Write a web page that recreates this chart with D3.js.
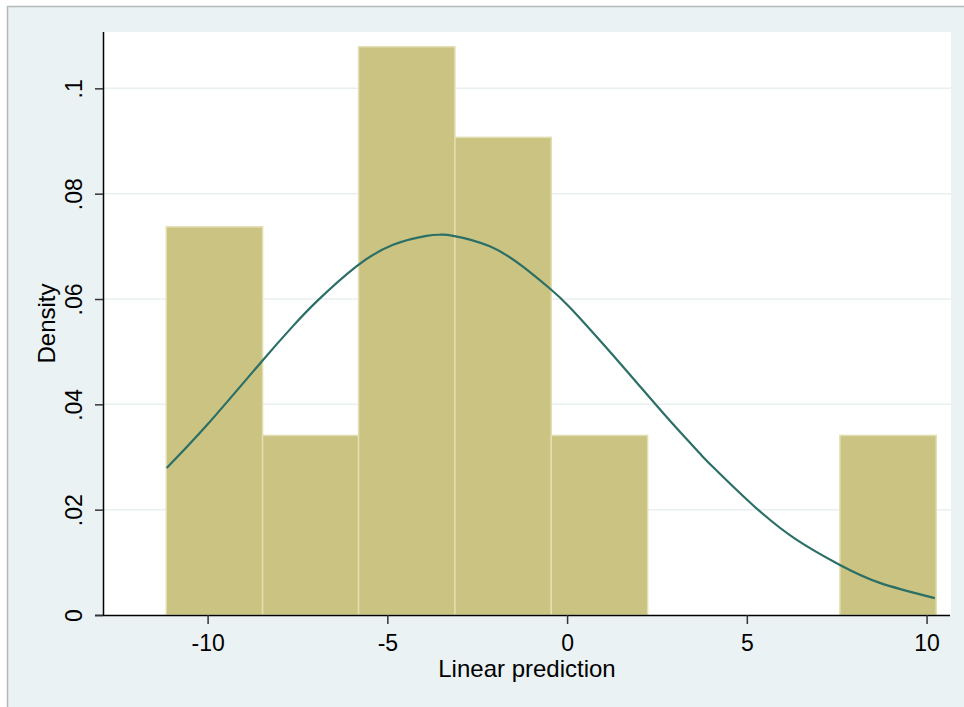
<!DOCTYPE html>
<html>
<head>
<meta charset="utf-8">
<script src="https://cdn.jsdelivr.net/npm/d3@7"></script>
<style>
  html, body { margin: 0; padding: 0; background: #fff; }
  svg { display: block; }
  text { font-family: "Liberation Sans", Arial, sans-serif; fill: #000; }
</style>
</head>
<body>
<div id="chart"></div>
<script>
// histogram bins (edges of the bins, in units of the linear prediction)
const binEdges = [-11.15, -8.47, -5.80, -3.12, -0.44, 2.24, 4.91, 7.59, 10.27];
const binDensity = [0.0737, 0.0341, 0.1079, 0.0907, 0.0341, 0, 0, 0.0341];

// normal density overlay
const curveX = [-11.14, -10.0, -8.50, -7.62, -6.97, -5.86, -4.84, -3.91, -3.54, -3.17, -2.15, -1.22, -0.48, 0.08,
                1.10, 2.03, 2.95, 3.69, 4.06, 5.18, 6.38, 7.59, 8.70, 10.23];
const curveY = [0.0279, 0.0362, 0.0481, 0.0549, 0.0595, 0.0662, 0.0703, 0.0720, 0.0722, 0.0720, 0.0700, 0.0661, 0.0620, 0.0584,
                0.0507, 0.0434, 0.0362, 0.0307, 0.0281, 0.0208, 0.0143, 0.0095, 0.0061, 0.0032];

const xTicks = [-10, -5, 0, 5, 10];
const yTicks = [0, 0.02, 0.04, 0.06, 0.08, 0.1];
const yTickLabels = ['0', '.02', '.04', '.06', '.08', '.1'];

const width = 964, height = 707;
const plot = { left: 103, right: 951, top: 32, bottom: 615 };

const svg = d3.select('#chart').append('svg')
    .attr('width', width)
    .attr('height', height);

// graph region with its grey frame
svg.append('rect')
    .attr('x', 7).attr('y', 6)
    .attr('width', width - 7).attr('height', height - 6)
    .attr('fill', '#eaf2f3');
svg.append('path')
    .attr('d', `M7.5,${height} V6.5 H${width}`)
    .attr('fill', 'none')
    .attr('stroke', '#b4b8b9')
    .attr('stroke-width', 1.5);

// plot region
svg.append('rect')
    .attr('x', plot.left).attr('y', plot.top)
    .attr('width', plot.right - plot.left).attr('height', plot.bottom - plot.top)
    .attr('fill', '#fff');

const xScale = d3.scaleLinear()
    .domain([-12.91, 10.68])
    .range([plot.left, plot.right]);

const yScale = d3.scaleLinear()
    .domain([0, 0.1107])
    .range([plot.bottom, plot.top]);

// grid lines
svg.append('g')
    .selectAll('line')
    .data(yTicks.filter(d => d > 0))
    .enter()
    .append('line')
    .attr('x1', plot.left).attr('x2', plot.right)
    .attr('y1', d => yScale(d)).attr('y2', d => yScale(d))
    .attr('stroke', '#e8eff1')
    .attr('stroke-width', 1.5);

// bars
const bins = binDensity.map((v, i) => ({ x0: binEdges[i], x1: binEdges[i + 1], value: v }))
    .filter(d => d.value > 0);

svg.append('g')
    .selectAll('rect')
    .data(bins)
    .enter()
    .append('rect')
    .attr('x', d => xScale(d.x0))
    .attr('width', d => xScale(d.x1) - xScale(d.x0))
    .attr('y', d => yScale(d.value))
    .attr('height', d => yScale(0) - yScale(d.value))
    .attr('fill', '#cac381')
    .attr('stroke', '#e3deb3')
    .attr('stroke-width', 1.5);

// density curve
const line = d3.line()
    .x(d => xScale(d[0]))
    .y(d => yScale(d[1]))
    .curve(d3.curveNatural);

svg.append('path')
    .datum(curveX.map((x, i) => [x, curveY[i]]))
    .attr('d', line)
    .attr('fill', 'none')
    .attr('stroke', '#2b6f66')
    .attr('stroke-width', 2.2);

// axes
const xAxis = d3.axisBottom(xScale)
    .tickValues(xTicks)
    .tickSize(9)
    .tickSizeOuter(0)
    .tickFormat(d => String(d));

const xG = svg.append('g')
    .attr('transform', `translate(0, ${plot.bottom})`)
    .call(xAxis);

xG.select('.domain')
    .attr('d', `M${plot.left - 8},0.5H${plot.right - 1}`)
    .attr('stroke', '#000')
    .attr('stroke-width', 1.5);
xG.selectAll('.tick line').attr('stroke', '#333').attr('stroke-width', 1.5);
xG.selectAll('.tick text')
    .attr('y', 36)
    .attr('dy', 0)
    .style('font-size', '23px')
    .style('font-family', '"Liberation Sans", Arial, sans-serif')
    .attr('fill', '#000');

const yAxis = d3.axisLeft(yScale)
    .tickValues(yTicks)
    .tickSize(8)
    .tickSizeOuter(0)
    .tickFormat((d, i) => yTickLabels[i]);

const yG = svg.append('g')
    .attr('transform', `translate(${plot.left}, 0)`)
    .call(yAxis);

yG.select('.domain')
    .attr('d', `M0.5,${plot.top}V${plot.bottom}`)
    .attr('stroke', '#000')
    .attr('stroke-width', 1.5);
yG.selectAll('.tick line').attr('stroke', '#333').attr('stroke-width', 1.5);
yG.selectAll('.tick text')
    .attr('x', 0)
    .attr('dy', 0)
    .attr('transform', 'translate(-21, 0) rotate(-90)')
    .attr('text-anchor', 'middle')
    .style('font-size', '23px')
    .style('font-family', '"Liberation Sans", Arial, sans-serif')
    .attr('fill', '#000');

// axis titles
svg.append('text')
    .attr('x', (plot.left + plot.right) / 2)
    .attr('y', 677)
    .attr('text-anchor', 'middle')
    .style('font-size', '24px')
    .text('Linear prediction');

svg.append('text')
    .attr('transform', `translate(55, ${(plot.top + plot.bottom) / 2}) rotate(-90)`)
    .attr('text-anchor', 'middle')
    .style('font-size', '24px')
    .text('Density');
</script>
</body>
</html>
